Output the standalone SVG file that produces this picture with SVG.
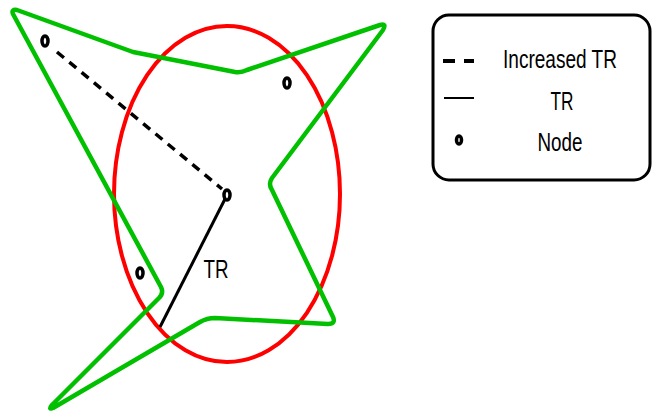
<svg xmlns="http://www.w3.org/2000/svg" width="658" height="418" viewBox="0 0 658 418">
<style>
.node{fill:none;stroke:#000;stroke-width:3.5}
.lbl{font-family:"Liberation Sans",Arial,sans-serif;font-size:25px;fill:#000}
</style>
<rect width="658" height="418" fill="#fff"/>
<g id="region">
<ellipse cx="227" cy="194" rx="113" ry="168" fill="none" stroke="#ff0000" stroke-width="4"/>
<path d="M17,10 L133,52 L235,72 Q241,73 247,70 L380,25 Q387,23 383,30 L272,178 Q268,184 272,190 L333,317 Q336,324 328,324 L215,318 Q207,318 200,322 L53,408 Q48,410 52,405 L159,298 Q164,293 161,287 L13,14 Q11,9 17,10 Z" fill="none" stroke="#00c000" stroke-width="4.5" stroke-linejoin="round"/>
</g>
<g id="connectors">
<line x1="57" y1="52" x2="222" y2="189" stroke="#000" stroke-width="3.5" stroke-dasharray="9,7"/>
<line x1="225" y1="199" x2="160" y2="327" stroke="#000" stroke-width="3"/>
<text class="lbl" x="216" y="278" text-anchor="middle" font-size="28" textLength="25" lengthAdjust="spacingAndGlyphs">TR</text>
</g>
<g id="n1"><ellipse class="node" cx="45" cy="41" rx="3" ry="5"/></g>
<g id="n2"><ellipse class="node" cx="287" cy="83" rx="3" ry="5"/></g>
<g id="n3"><ellipse class="node" cx="227" cy="195" rx="3" ry="5"/></g>
<g id="n4"><ellipse class="node" cx="140" cy="273" rx="3" ry="5"/></g>
<g id="legend">
<rect x="433" y="15" width="217" height="165" rx="16" fill="none" stroke="#000" stroke-width="3"/>
<line x1="443" y1="61" x2="474" y2="61" stroke="#000" stroke-width="4" stroke-dasharray="12,9"/>
<line x1="444" y1="98" x2="474" y2="98" stroke="#000" stroke-width="2"/>
<ellipse class="node" cx="459" cy="140" rx="2.5" ry="4"/>
<text class="lbl" x="560" y="68" text-anchor="middle" textLength="114" lengthAdjust="spacingAndGlyphs">Increased TR</text>
<text class="lbl" x="562" y="110" text-anchor="middle" textLength="23" lengthAdjust="spacingAndGlyphs">TR</text>
<text class="lbl" x="560" y="151" text-anchor="middle" textLength="45" lengthAdjust="spacingAndGlyphs">Node</text>
</g>
</svg>
